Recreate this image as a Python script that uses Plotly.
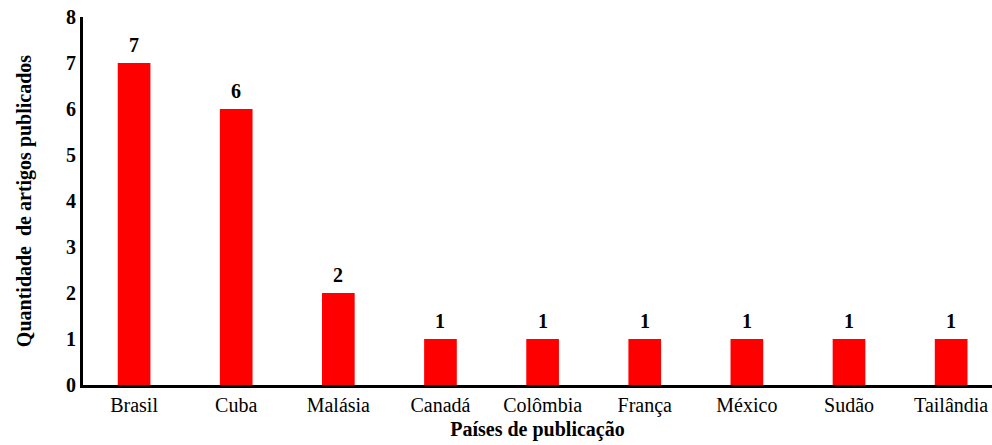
import plotly.graph_objects as go

countries = ["Brasil", "Cuba", "Malásia", "Canadá", "Colômbia", "França", "México", "Sudão", "Tailândia"]
counts = [7, 6, 2, 1, 1, 1, 1, 1, 1]
y_ticks = [0, 1, 2, 3, 4, 5, 6, 7, 8]

font_family = "Liberation Serif, Times New Roman, serif"
xs = list(range(len(countries)))

fig = go.Figure(go.Bar(
    x=xs,
    y=counts,
    width=0.32,
    marker=dict(color="#FF0000", line=dict(width=0)),
))

for xi, v in zip(xs, counts):
    fig.add_annotation(
        x=xi, y=v, text=f"<b>{v}</b>", showarrow=False,
        yanchor="bottom", yshift=5,
        font=dict(family=font_family, size=20, color="black"),
    )

fig.update_layout(
    width=992, height=445,
    margin=dict(l=83, r=0, t=17, b=60),
    plot_bgcolor="white", paper_bgcolor="white",
    showlegend=False,
    font=dict(family=font_family, color="black"),
    xaxis=dict(
        tickmode="array",
        tickvals=xs,
        ticktext=countries,
        range=[-0.5, 8.4],
        showline=True, linecolor="black", linewidth=3,
        showgrid=False, zeroline=False, ticks="",
        tickfont=dict(size=20, family=font_family),
        title=dict(text="<b>Países de publicação</b>", font=dict(size=20, family=font_family), standoff=6),
    ),
    yaxis=dict(
        range=[0, 8],
        tickvals=y_ticks,
        ticktext=[f"<b>{t}</b>" for t in y_ticks],
        showline=True, linecolor="black", linewidth=3,
        showgrid=False, zeroline=False, ticks="",
        tickfont=dict(size=20, family=font_family),
        title=dict(text="<b>Quantidade  de artigos publicados</b>", font=dict(size=20, family=font_family), standoff=30),
    ),
)

fig.write_html("out.html")
